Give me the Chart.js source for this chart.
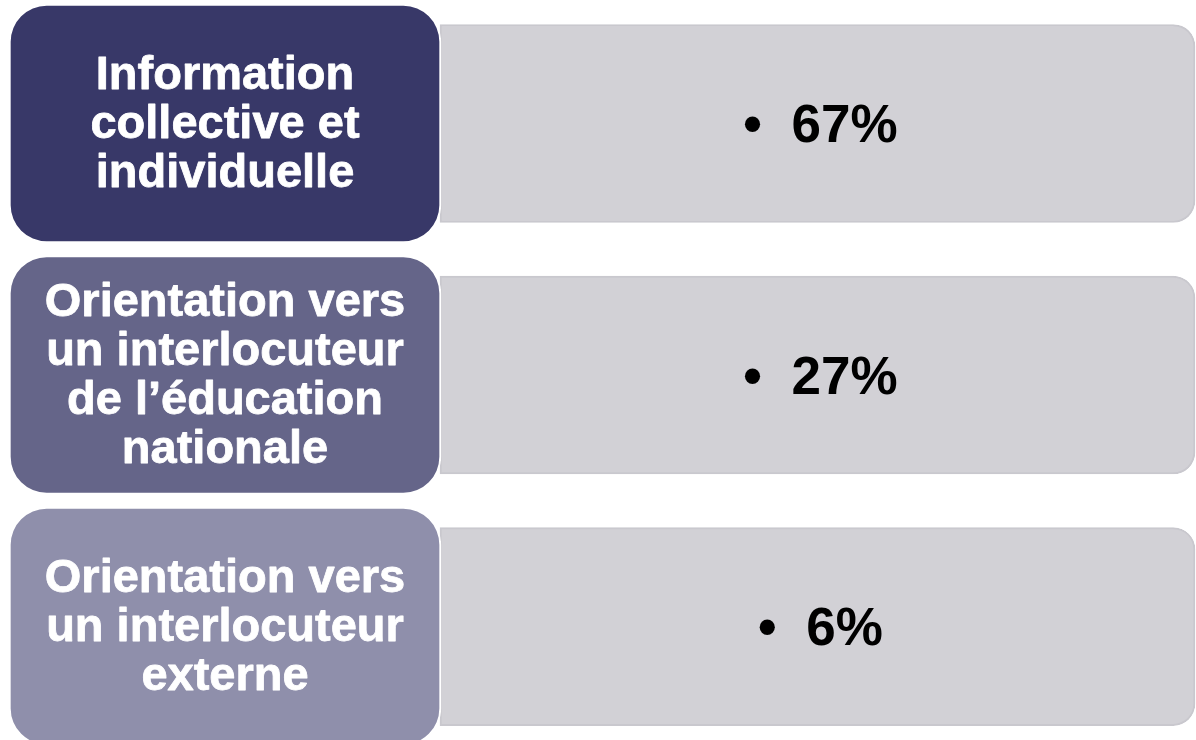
<!DOCTYPE html>
<html>
<head>
<meta charset="utf-8">
<script src="https://cdn.jsdelivr.net/npm/chart.js@4/dist/chart.umd.min.js"></script>
<style>
  html, body { margin: 0; padding: 0; background: #ffffff; overflow: hidden; }
  #wrap { width: 1196px; height: 740px; }
</style>
</head>
<body>
<div id="wrap"><canvas id="c" width="1196" height="740"></canvas></div>
<script>
// ---- data ----
const categories = [
  ['Information', 'collective et', 'individuelle'],
  ['Orientation vers', 'un interlocuteur', 'de l\u2019éducation', 'nationale'],
  ['Orientation vers', 'un interlocuteur', 'externe']
];
const values = [67, 27, 6];
const boxColors = ['#383868', '#656589', '#8f8fab'];
const panelColor = '#d2d1d6';

// ---- layout (not data) ----
const BOX_SPAN = [9, 441];
const PANEL_SPAN = [440, 1195];

const boxData = categories.map((c, i) => ({ y: i, x: BOX_SPAN.slice() }));
const panelData = values.map((v, i) => ({ y: i, x: PANEL_SPAN.slice() }));

const labelPlugin = {
  id: 'labels',
  afterDatasetsDraw(chart) {
    const ctx = chart.ctx;
    const boxes = chart.getDatasetMeta(0).data;
    const panels = chart.getDatasetMeta(1).data;
    ctx.save();
    // category labels
    ctx.fillStyle = '#ffffff';
    ctx.strokeStyle = '#ffffff';
    ctx.lineWidth = 0.8;
    ctx.lineJoin = 'round';
    ctx.font = 'bold 47px "Liberation Sans", Arial, sans-serif';
    ctx.textAlign = 'center';
    ctx.textBaseline = 'alphabetic';
    boxes.forEach((el, i) => {
      const lines = categories[i];
      const cx = (el.base + el.x) / 2;
      const lh = 49;
      lines.forEach((ln, j) => {
        const y = el.y + (j - (lines.length - 1) / 2) * lh + 14;
        ctx.fillText(ln, cx, y);
        ctx.strokeText(ln, cx, y);
      });
    });
    // values
    ctx.fillStyle = '#000000';
    ctx.font = 'bold 53px "Liberation Sans", Arial, sans-serif';
    panels.forEach((el, i) => {
      const txt = values[i] + '%';
      const w = ctx.measureText(txt).width;
      const gw = 47 + w;
      const cx = (el.base + el.x) / 2 + 3.5;
      const left = cx - gw / 2;
      const base = el.y + 18.5;
      ctx.textAlign = 'center';
      ctx.fillText('\u2022', left + 8, base);
      ctx.textAlign = 'left';
      ctx.fillText(txt, left + 47, base);
    });
    ctx.restore();
  }
};

new Chart(document.getElementById('c'), {
  type: 'bar',
  data: {
    datasets: [
      {
        label: 'Catégories',
        data: boxData,
        backgroundColor: boxColors,
        borderColor: '#ffffff',
        borderWidth: 2,
        borderSkipped: false,
        borderRadius: 38,
        barThickness: 239,
        grouped: false
      },
      {
        label: 'Part',
        data: panelData,
        backgroundColor: panelColor,
        borderColor: '#c9c8ce',
        borderWidth: 2,
        borderSkipped: false,
        borderRadius: { topLeft: 0, bottomLeft: 0, topRight: 22, bottomRight: 22 },
        barThickness: 198,
        grouped: false
      }
    ]
  },
  options: {
    indexAxis: 'y',
    responsive: false,
    animation: false,
    events: [],
    layout: { padding: 0 },
    plugins: { legend: { display: false }, tooltip: { enabled: false } },
    scales: {
      x: { type: 'linear', min: 0, max: 1196, display: false, offset: false },
      y: { type: 'linear', min: -0.491, max: 2.451, reverse: true, display: false, offset: false }
    }
  },
  plugins: [labelPlugin]
});
</script>
</body>
</html>
